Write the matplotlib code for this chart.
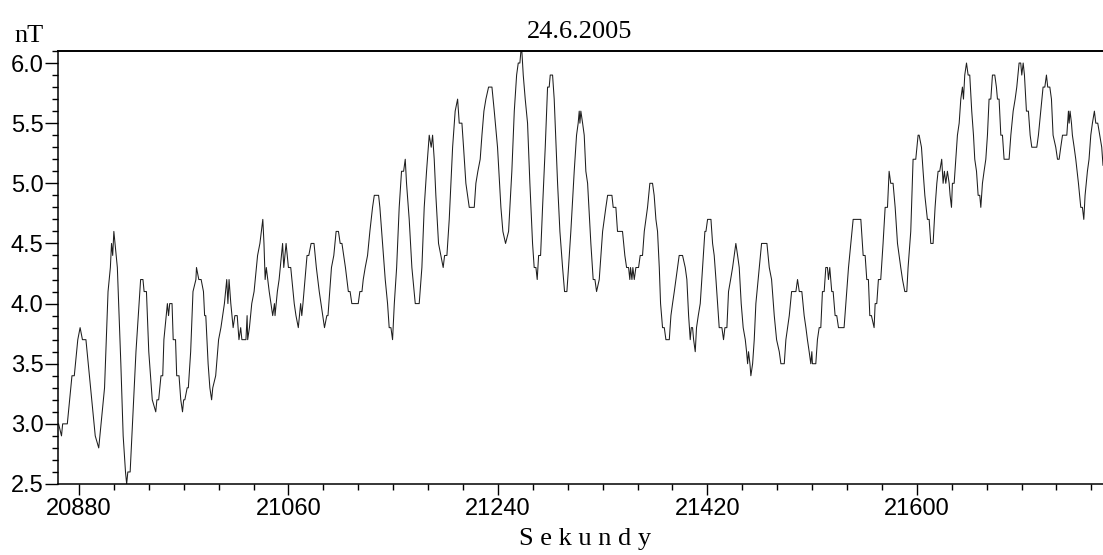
import matplotlib
matplotlib.use('Agg')
import matplotlib.pyplot as plt
from matplotlib.ticker import MultipleLocator, FormatStrFormatter

datum = '24.6.2005'
jednotka = 'nT'
popis_x = 'S e k u n d y'

# cas [s] a hodnota pole [nT]
cas = [20862.5, 20865, 20866, 20870, 20873, 20874, 20876, 20877, 20879, 20881,
       20883, 20886, 20889, 20892, 20894, 20897, 20899, 20902, 20905, 20907,
       20908, 20909, 20910, 20913, 20916, 20918, 20920, 20921, 20922, 20924,
       20926, 20929, 20931, 20933, 20935, 20936, 20938, 20940, 20943, 20946,
       20947, 20948.5, 20950.5, 20952, 20953, 20956, 20957, 20958, 20960, 20961,
       20963, 20964, 20966, 20967.5, 20969, 20970, 20971, 20973, 20974, 20976,
       20978, 20980.5, 20981, 20983, 20985, 20987, 20988, 20989, 20991,
       20992.5, 20994, 20995, 20997.5, 21000, 21002, 21003.5, 21005, 21007, 21008,
       21009, 21010.5, 21012.5, 21014, 21016, 21017.5, 21019, 21020, 21023.5, 21024.5,
       21025, 21026.5, 21028.5, 21030.5, 21033.5, 21035.5, 21038, 21039, 21040, 21041,
       21043.5, 21046.5, 21048, 21048.5, 21050.5, 21052, 21055, 21056, 21058, 21060,
       21062, 21065, 21066.5, 21068.5, 21070.5, 21071.5, 21072.5, 21076, 21077.5, 21079.5,
       21082, 21084, 21086.5, 21089.5, 21091, 21093, 21094, 21097, 21099, 21101,
       21103, 21104.5, 21106, 21109, 21111.5, 21113, 21114.5, 21120,
       21121.4, 21123.2, 21124.3, 21126, 21128, 21130, 21132.3, 21133.8, 21137.5, 21138.6,
       21140.9, 21143.2, 21145.2, 21146.6, 21148.1, 21149.5, 21151, 21153, 21155.2, 21157.2,
       21159, 21160.4, 21161.5, 21163.8, 21166.1, 21169, 21172.4, 21174.7, 21176.7, 21178.7,
       21181, 21182.7, 21183.9, 21185.3, 21186.7, 21189, 21191, 21193, 21194.2, 21196.2,
       21198.2, 21201.1, 21203.3, 21205.4, 21206.8, 21209.1, 21210.5, 21212.5, 21215.4, 21219.7,
       21221.1, 21222.8, 21224.8, 21226.3, 21228, 21229.7, 21232, 21234.9, 21236.9, 21239.7,
       21242.6, 21244.3, 21246.6, 21249.2, 21250.3, 21252, 21254.1, 21256.1, 21257.5, 21258.9,
       21259.8, 21260.6, 21261.8, 21263.5, 21265.5, 21267.5, 21269.8, 21271.2, 21272.7, 21273.8,
       21275, 21276.7, 21278.4, 21280.7, 21282.7, 21284.1, 21285, 21287, 21288.4, 21291.3,
       21293.3, 21295.6, 21297.3, 21299.3, 21300.7, 21302.7, 21305.6, 21307.6, 21309, 21309.9,
       21310.5, 21311.3, 21312.8, 21314.2, 21315.6, 21317.1, 21319.9, 21321.9, 21323.4, 21324.8,
       21327.1, 21330, 21332.8, 21334.3, 21338, 21339.1, 21341.4, 21342.8, 21347.1, 21349.1,
       21350.6, 21352.3, 21353.4, 21354, 21355.2, 21356, 21357.2, 21358.6, 21360.9, 21362.3,
       21364.3, 21365.8, 21367.2, 21368.6, 21370.6, 21372.9, 21374.3, 21375.8, 21377.2, 21378.7,
       21379.8, 21381.5, 21383, 21384.4, 21387.3, 21388.7, 21390.1, 21391.6, 21393, 21394.4,
       21395.8, 21398.7, 21401, 21402.4, 21403.9, 21405.3, 21406.2, 21407.3, 21408.2, 21409.6,
       21410.7, 21412.2, 21413.9, 21415.9, 21417.9, 21418.8, 21420.2, 21423.1, 21424.5, 21425.9,
       21427.4, 21428.8, 21430.2, 21432.5, 21433.9, 21435.1, 21436.8, 21438.2, 21440, 21441.7,
       21443.1, 21444.5, 21446, 21447.4, 21449.1, 21450.8, 21452.6, 21453.7, 21454.6, 21455.4,
       21456.6, 21457.4, 21458.9, 21460.3, 21461.7, 21464.6, 21466.6, 21471.2, 21473.2, 21475.2,
       21477.5, 21479.5, 21481.8, 21483.2, 21486.1, 21487.5, 21490.4, 21492.4, 21496.1, 21497.5,
       21499, 21501.2, 21503.2, 21504.7, 21506, 21507.5, 21508.9, 21509.8, 21510.3, 21513.2,
       21514.6, 21516.1, 21517.5, 21518.9, 21520.4, 21521.8, 21523.2, 21524.1, 21525.2, 21526.9,
       21528.1, 21529.8, 21531.2, 21532.7, 21537.5, 21539, 21541.3, 21543.3, 21545.3, 21551.9,
       21553.9, 21555.6, 21557, 21558.4, 21559.6, 21561, 21563.3, 21564.2, 21565.6, 21567,
       21569, 21571, 21572.8, 21574.8, 21576.2, 21577.6, 21579.6, 21581.4, 21583.4, 21586.2,
       21587.7, 21589.7, 21591.4, 21592.5, 21594.8, 21596.8, 21599.1, 21601.1, 21602, 21604,
       21605.4, 21606.9, 21609.1, 21610.6, 21612, 21614, 21615.7, 21617.2, 21618.3, 21619.7,
       21621.4, 21622.6, 21623.7, 21624.9, 21626.3, 21627.8, 21628.6, 21629.8, 21630.6, 21632.1,
       21633.5, 21634.9, 21636.4, 21637.8, 21639.2, 21640.1, 21641.2, 21642.7, 21644.1, 21645.5,
       21647.2, 21648.7, 21649.8, 21651.3, 21652.7, 21654.1, 21655, 21656.4, 21657.8, 21659.3,
       21660.7, 21662.1, 21663.6, 21665, 21667, 21668.4, 21669.3, 21670.7, 21672.2, 21673.6,
       21675, 21679.3, 21680.8, 21682.8, 21684.5, 21685.9, 21687.9, 21689.3, 21690.2, 21691.4,
       21692.5, 21694.2, 21695.9, 21697.4, 21698.8, 21703.1, 21704.5, 21706.5, 21708.5, 21710,
       21711.4, 21712.5, 21714.3, 21715.7, 21717.1, 21719.4, 21720.9, 21722.3, 21723.7, 21725.2,
       21728.9, 21730.3, 21730.9, 21731.7, 21732.9, 21733.7, 21735.2, 21736.6, 21738.9, 21740.9,
       21742.3, 21743.5, 21744.6, 21746.6, 21748, 21749.5, 21750.9, 21752.6, 21753.8, 21755.5,
       21757.2, 21758.9, 21760]

pole = [3.0, 2.9, 3.0, 3.0, 3.3, 3.4, 3.4, 3.5, 3.7, 3.8,
        3.7, 3.7, 3.4, 3.1, 2.9, 2.8, 3.0, 3.3, 4.1, 4.3,
        4.5, 4.4, 4.6, 4.3, 3.5, 2.9, 2.6, 2.5, 2.6, 2.6,
        3.0, 3.6, 3.9, 4.2, 4.2, 4.1, 4.1, 3.6, 3.2, 3.1,
        3.2, 3.2, 3.4, 3.4, 3.7, 4.0, 3.9, 4.0, 4.0, 3.7,
        3.7, 3.4, 3.4, 3.2, 3.1, 3.2, 3.2, 3.3, 3.3, 3.6,
        4.1, 4.2, 4.3, 4.2, 4.2, 4.1, 3.9, 3.9, 3.5,
        3.3, 3.2, 3.3, 3.4, 3.7, 3.8, 3.9, 4.0, 4.2, 4.0,
        4.2, 4.0, 3.8, 3.9, 3.9, 3.7, 3.8, 3.7, 3.7, 3.9,
        3.7, 3.8, 4.0, 4.1, 4.4, 4.5, 4.7, 4.5, 4.2, 4.3,
        4.1, 3.9, 4.0, 3.9, 4.1, 4.2, 4.5, 4.3, 4.5, 4.3,
        4.3, 4.0, 3.9, 3.8, 4.0, 3.9, 4.0, 4.4, 4.4, 4.5,
        4.5, 4.3, 4.1, 3.9, 3.8, 3.9, 3.9, 4.3, 4.4, 4.6,
        4.6, 4.5, 4.5, 4.3, 4.1, 4.1, 4.0, 4.0,
        4.1, 4.1, 4.2, 4.3, 4.4, 4.6, 4.8, 4.9, 4.9, 4.8,
        4.5, 4.2, 4.0, 3.8, 3.8, 3.7, 4.0, 4.3, 4.8, 5.1,
        5.1, 5.2, 5.0, 4.7, 4.3, 4.0, 4.0, 4.3, 4.8, 5.1,
        5.4, 5.3, 5.4, 5.2, 4.9, 4.5, 4.4, 4.3, 4.4, 4.4,
        4.7, 5.3, 5.6, 5.7, 5.5, 5.5, 5.3, 5.0, 4.8, 4.8,
        5.0, 5.1, 5.2, 5.4, 5.6, 5.7, 5.8, 5.8, 5.6, 5.3,
        4.8, 4.6, 4.5, 4.6, 4.8, 5.1, 5.6, 5.9, 6.0, 6.0,
        6.1, 6.1, 5.9, 5.7, 5.5, 5.0, 4.5, 4.3, 4.3, 4.2,
        4.4, 4.4, 4.8, 5.3, 5.8, 5.8, 5.9, 5.9, 5.7, 5.0,
        4.6, 4.3, 4.1, 4.1, 4.3, 4.6, 5.1, 5.4, 5.5, 5.6,
        5.5, 5.6, 5.5, 5.4, 5.1, 5.0, 4.5, 4.2, 4.2, 4.1,
        4.2, 4.6, 4.8, 4.9, 4.9, 4.8, 4.8, 4.6, 4.6, 4.4,
        4.3, 4.3, 4.2, 4.3, 4.2, 4.3, 4.2, 4.3, 4.3, 4.4,
        4.4, 4.6, 4.7, 4.8, 5.0, 5.0, 4.9, 4.7, 4.6, 4.3,
        4.0, 3.8, 3.8, 3.7, 3.7, 3.9, 4.0, 4.1, 4.2, 4.3,
        4.4, 4.4, 4.3, 4.2, 3.9, 3.7, 3.8, 3.8, 3.7, 3.6,
        3.8, 3.9, 4.0, 4.3, 4.6, 4.6, 4.7, 4.7, 4.5, 4.4,
        4.2, 4.0, 3.8, 3.8, 3.7, 3.8, 3.8, 4.1, 4.2, 4.3,
        4.4, 4.5, 4.4, 4.3, 4.0, 3.8, 3.7, 3.6, 3.5, 3.6,
        3.5, 3.4, 3.5, 3.7, 4.0, 4.3, 4.5, 4.5, 4.3, 4.2,
        3.9, 3.7, 3.6, 3.5, 3.5, 3.7, 3.9, 4.1, 4.1, 4.2,
        4.1, 4.1, 3.9, 3.8, 3.7, 3.6, 3.5, 3.6, 3.5, 3.5,
        3.7, 3.8, 3.8, 4.1, 4.1, 4.3, 4.3, 4.2, 4.3, 4.1,
        4.1, 3.9, 3.9, 3.8, 3.8, 4.0, 4.3, 4.5, 4.7, 4.7,
        4.4, 4.4, 4.2, 4.2, 3.9, 3.9, 3.8, 4.0, 4.0, 4.2,
        4.2, 4.5, 4.8, 4.8, 5.1, 5.0, 5.0, 4.8, 4.5, 4.3,
        4.2, 4.1, 4.1, 4.3, 4.6, 5.2, 5.2, 5.4, 5.4, 5.3,
        5.1, 4.9, 4.7, 4.7, 4.5, 4.5, 4.8, 5.0, 5.1, 5.1,
        5.2, 5.0, 5.1, 5.0, 5.1, 5.0, 4.9, 4.8, 5.0, 5.0,
        5.2, 5.4, 5.5, 5.7, 5.8, 5.7, 5.9, 6.0, 5.9, 5.9,
        5.6, 5.4, 5.2, 5.1, 4.9, 4.9, 4.8, 5.0, 5.1, 5.2,
        5.4, 5.7, 5.7, 5.9, 5.9, 5.8, 5.7, 5.7, 5.4, 5.4,
        5.2, 5.2, 5.4, 5.6, 5.7, 5.8, 6.0, 6.0, 5.9, 6.0,
        5.9, 5.6, 5.6, 5.4, 5.3, 5.3, 5.4, 5.6, 5.8, 5.8,
        5.9, 5.8, 5.8, 5.7, 5.4, 5.3, 5.2, 5.2, 5.3, 5.4,
        5.4, 5.6, 5.5, 5.6, 5.5, 5.4, 5.3, 5.2, 5.0, 4.8,
        4.8, 4.7, 4.9, 5.1, 5.2, 5.4, 5.5, 5.6, 5.5, 5.5,
        5.4, 5.3, 5.15]

plt.rcParams['font.family'] = 'Liberation Sans'

fig = plt.figure(figsize=(11.03, 5.55), dpi=100)
ax = fig.add_axes([58/1103, 1 - 484/555, 1 - 58/1103, (484 - 51)/555])

ax.plot(cas, pole, color='#1e1e1e', lw=0.75)

ax.set_xlim(20862, 21760)
ax.set_ylim(2.5, 6.1)

ax.xaxis.set_major_locator(MultipleLocator(180))
ax.xaxis.set_minor_locator(MultipleLocator(30))
ax.yaxis.set_major_locator(MultipleLocator(0.5))
ax.yaxis.set_minor_locator(MultipleLocator(0.1))
ax.yaxis.set_major_formatter(FormatStrFormatter('%.1f'))

ax.tick_params(axis='x', which='major', length=8, width=1, labelsize=17, pad=2)
ax.tick_params(axis='x', which='minor', length=4.3, width=1)
ax.tick_params(axis='y', which='major', length=9.4, width=1, labelsize=17, pad=1)
ax.tick_params(axis='y', which='minor', length=4.3, width=1)

ax.spines['right'].set_visible(False)
ax.spines['top'].set_linewidth(1.4)
ax.spines['left'].set_linewidth(1.1)
ax.spines['bottom'].set_linewidth(1.1)

fig.text(580/1103, 1 - 38/555, datum, ha='center', va='baseline',
         family='Liberation Serif', size=19)
fig.text(29/1103, 1 - 42/555, jednotka, ha='center', va='baseline',
         family='Liberation Serif', size=19)
fig.text(585/1103, 1 - 545/555, popis_x, ha='center', va='baseline',
         family='Liberation Serif', size=19)

fig.savefig('out.png', dpi=100)
